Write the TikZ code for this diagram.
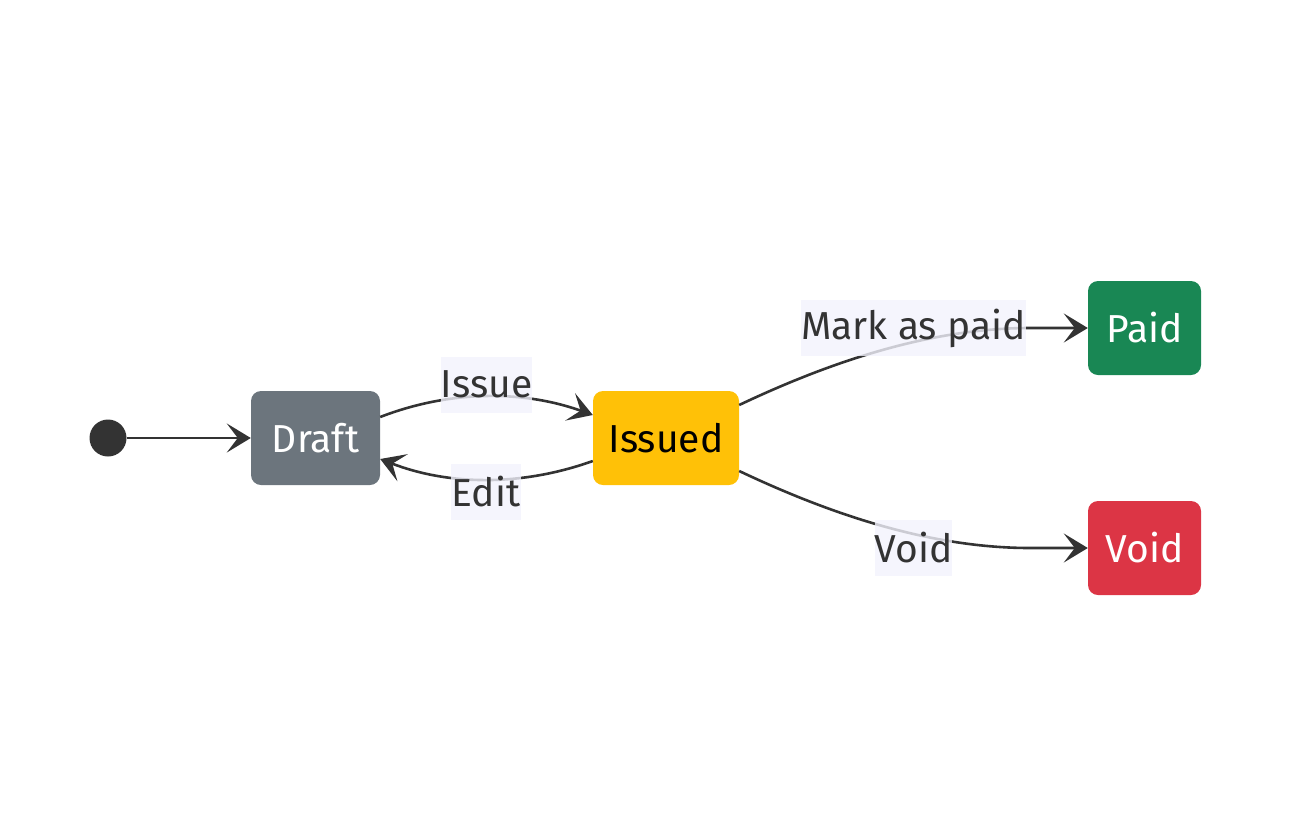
\documentclass[tikz,border=0pt]{standalone}
\usepackage{fontspec}
\setmainfont{Fira Sans}
\usetikzlibrary{arrows.meta}
\definecolor{edgec}{HTML}{333333}
\definecolor{draftc}{HTML}{6C757D}
\definecolor{issuedc}{HTML}{FFC107}
\definecolor{paidc}{HTML}{198754}
\definecolor{voidc}{HTML}{DC3545}
\definecolor{lblbg}{HTML}{F2F2FC}
\tikzset{
  state/.style={rounded corners=10pt, minimum height=94pt, inner sep=0pt,
    font=\fontsize{39}{46}\selectfont, text=white},
  edgelbl/.style={fill=lblbg, fill opacity=0.8, text opacity=1, text=edgec,
    inner sep=0pt, minimum height=56pt, font=\fontsize{39}{46}\selectfont},
  conn/.style={draw=edgec, line width=2.6pt,
    -{Stealth[length=24pt,width=29pt,inset=11pt]}}
}
\begin{document}
\begin{tikzpicture}[x=1pt,y=-1pt]
\useasboundingbox (0,0) rectangle (1312,820);
\node[circle, fill=edgec, minimum size=37pt, inner sep=0pt] (start) at (108,438) {};
\node[state, fill=draftc, minimum width=129pt] (draft) at (315.5,438) {Draft};
\node[state, fill=issuedc, minimum width=146pt, text=black] (issued) at (666,438) {Issued};
\node[state, fill=paidc, minimum width=113pt] (paid) at (1144.5,328) {Paid};
\node[state, fill=voidc, minimum width=113pt] (void) at (1144.5,548) {Void};
\coordinate (pj) at (1030,328);
\coordinate (vj) at (1030,548);

\draw[conn] (start.east) -- (draft.west);
\draw[conn] ([yshift=21pt]draft.east) .. controls (450,390) and (523,390) .. ([yshift=23pt]issued.west);
\draw[conn] ([yshift=-23pt]issued.west) .. controls (523,486) and (450,486) .. ([yshift=-21pt]draft.east);
\draw[conn] ([yshift=33pt]issued.east) .. controls (830,362) and (930,328) .. (pj) -- (paid.west);
\draw[conn] ([yshift=-33pt]issued.east) .. controls (830,514) and (930,548) .. (vj) -- (void.west);

\node[edgelbl, minimum width=87pt] (lissue) at (486.5,384.5) {Issue};
\node[edgelbl, minimum width=70pt] (ledit) at (486,491.5) {Edit};
\node[edgelbl, minimum width=223pt] (lpaid) at (913.5,328) {Mark as paid};
\node[edgelbl, minimum width=75pt] (lvoid) at (913.5,548) {Void};
\end{tikzpicture}
\end{document}
